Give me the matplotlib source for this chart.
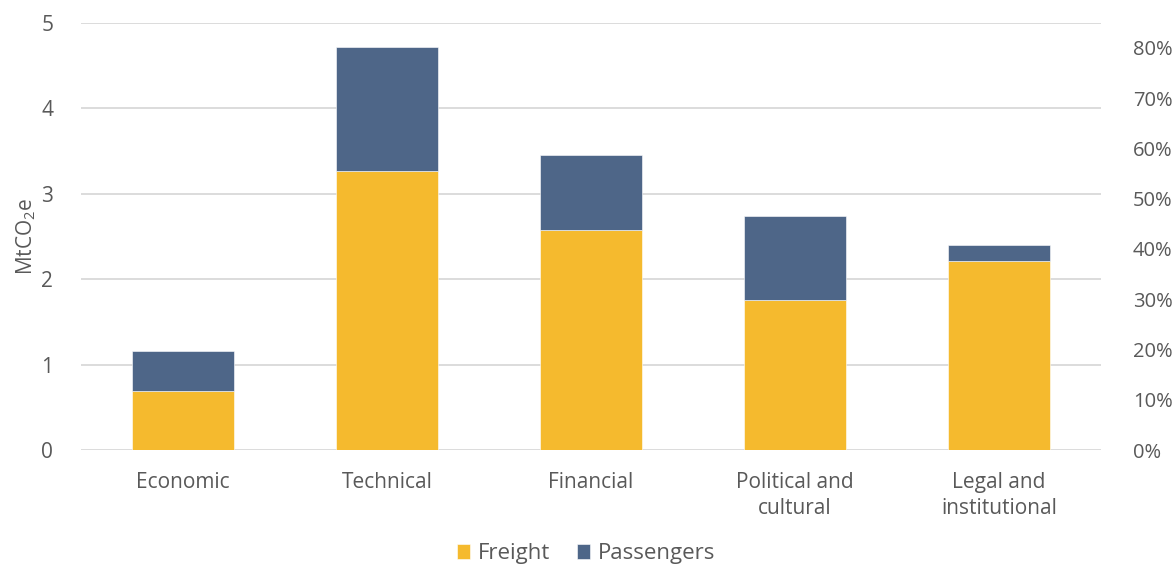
import matplotlib.pyplot as plt
import numpy as np

plt.rcParams['font.family'] = ['Open Sans', 'DejaVu Sans']
plt.rcParams['mathtext.fontset'] = 'custom'
plt.rcParams['mathtext.rm'] = 'Open Sans'
plt.rcParams['mathtext.it'] = 'Open Sans:italic'

categories = ['Economic', 'Technical', 'Financial', 'Political and\ncultural', 'Legal and\ninstitutional']
freight = [0.69, 3.26, 2.57, 1.75, 2.21]
passengers = [0.47, 1.45, 0.88, 0.99, 0.19]
left_ticks = [0, 1, 2, 3, 4, 5]
right_ticks = [0, 0.1, 0.2, 0.3, 0.4, 0.5, 0.6, 0.7, 0.8]

yellow = '#F5BA2E'
blue = '#4E6688'
grey = '#595959'
fs = 15

fig = plt.figure(figsize=(11.72, 5.71), dpi=100)
ax = fig.add_axes([0.0691, 0.2119, 0.8703, 0.7485])

x = np.arange(len(categories))
ax.bar(x, freight, width=0.5, color=yellow, label='Freight', zorder=3,
       edgecolor='white', linewidth=0.4)
ax.bar(x, passengers, width=0.5, bottom=freight, color=blue, label='Passengers',
       zorder=3, edgecolor='white', linewidth=0.4)

ax.set_xlim(-0.5, len(categories) - 0.5)
ax.set_ylim(0, 5)
ax.set_yticks(left_ticks)
ax.set_xticks(x)
ax.set_xticklabels(categories, fontsize=fs, color=grey, linespacing=1.3)
ax.tick_params(axis='y', length=0, pad=20, labelsize=fs, labelcolor=grey)
ax.tick_params(axis='x', length=0, pad=16)
ax.grid(axis='y', color='#D9D9D9', linewidth=1.3, zorder=0)
for s in ax.spines.values():
    s.set_visible(False)
ax.set_ylabel('MtCO$_2$e', fontsize=fs, color=grey, labelpad=2)

ax2 = ax.twinx()
ax2.set_ylim(0, 0.85)
ax2.set_yticks(right_ticks)
ax2.set_yticklabels([f'{int(round(t * 100))}%' for t in right_ticks])
ax2.tick_params(axis='y', length=0, pad=23, labelsize=14.5, labelcolor=grey)
for s in ax2.spines.values():
    s.set_visible(False)

h, l = ax.get_legend_handles_labels()
fig.legend(h, l, loc='center', bbox_to_anchor=(0.5, 0.03), ncol=2, frameon=False,
           fontsize=16, labelcolor=grey, handlelength=0.6, handleheight=0.6,
           handletextpad=0.35, columnspacing=1.2)

fig.savefig('out.png', dpi=100)
